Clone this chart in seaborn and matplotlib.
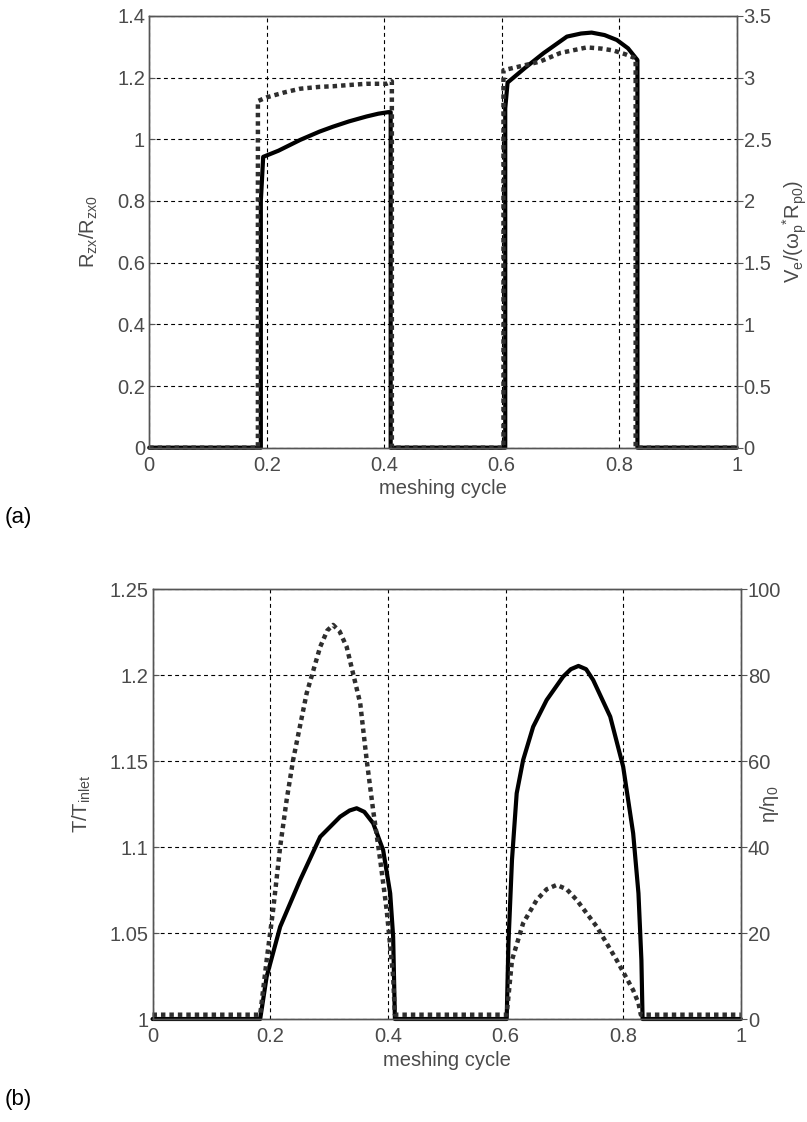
import matplotlib
matplotlib.use("Agg")
import matplotlib.pyplot as plt
import seaborn as sns
from matplotlib.ticker import FixedLocator, FuncFormatter

# ---------------------------------------------------------------------------
# (a) contact radius ratio (left axis) and entrainment velocity (right axis)
# ---------------------------------------------------------------------------
cycle_r = [0.0, 0.190, 0.190, 0.194, 0.22, 0.257, 0.29, 0.313, 0.34, 0.37,
           0.39, 0.407, 0.411, 0.411, 0.606, 0.606, 0.61, 0.64, 0.671, 0.711,
           0.735, 0.753, 0.775, 0.796, 0.815, 0.831, 0.831, 1.0]
r_ratio = [0.0, 0.0, 0.80, 0.943, 0.963, 0.998, 1.025, 1.041, 1.058, 1.074,
           1.083, 1.088, 1.088, 0.0, 0.0, 1.10, 1.184, 1.232, 1.279, 1.333,
           1.343, 1.346, 1.338, 1.322, 1.295, 1.257, 0.0, 0.0]

cycle_v = [0.0, 0.185, 0.185, 0.20, 0.23, 0.257, 0.29, 0.313, 0.34, 0.37,
           0.404, 0.413, 0.413, 0.603, 0.603, 0.63, 0.665, 0.70, 0.745,
           0.77, 0.79, 0.81, 0.826, 0.828, 0.828, 1.0]
v_ratio = [0.0, 0.0, 2.81, 2.84, 2.88, 2.91, 2.925, 2.93, 2.94, 2.95,
           2.95, 2.97, 0.0, 0.0, 3.06, 3.09, 3.13, 3.20, 3.245,
           3.235, 3.22, 3.19, 3.16, 3.15, 0.0, 0.0]

# ---------------------------------------------------------------------------
# (b) temperature rise (left axis) and viscosity ratio (right axis)
# ---------------------------------------------------------------------------
cycle_t = [0.0, 0.183, 0.194, 0.217, 0.251, 0.285, 0.319, 0.335, 0.347,
           0.36, 0.375, 0.392, 0.404, 0.409, 0.412, 0.602, 0.605, 0.611,
           0.619, 0.630, 0.647, 0.670, 0.698, 0.711, 0.724, 0.737, 0.749,
           0.778, 0.800, 0.817, 0.826, 0.831, 0.833, 1.0]
t_ratio = [1.0, 1.0, 1.0246, 1.0537, 1.0809, 1.106, 1.1177, 1.1213, 1.1226,
           1.1205, 1.1139, 1.0983, 1.0731, 1.0479, 1.0, 1.0, 1.044, 1.0925,
           1.1313, 1.1507, 1.170, 1.1856, 1.1992, 1.2035, 1.2054, 1.2035,
           1.1972, 1.1759, 1.1468, 1.108, 1.0731, 1.0343, 1.0, 1.0]

cycle_eta = [0.0, 0.183, 0.194, 0.205, 0.217, 0.228, 0.239, 0.262, 0.285,
             0.297, 0.307, 0.318, 0.330, 0.353, 0.364, 0.375, 0.387, 0.398,
             0.409, 0.412, 0.602, 0.611, 0.630, 0.653, 0.670, 0.687, 0.704,
             0.721, 0.755, 0.789, 0.817, 0.826, 0.830, 1.0]
eta_ratio = [1.0, 1.0, 13.7, 25.4, 40.1, 51.0, 60.3, 75.8, 86.6, 90.4, 91.7,
             90.2, 86.6, 73.5, 60.3, 48.6, 37.0, 25.4, 9.8, 1.0, 1.0, 13.7,
             22.3, 27.7, 30.2, 31.2, 30.2, 27.7, 21.5, 13.7, 6.7, 3.7, 1.0,
             1.0]

# Tick values
cycle_ticks = [0, 0.2, 0.4, 0.6, 0.8, 1]
r_ticks = [0, 0.2, 0.4, 0.6, 0.8, 1, 1.2, 1.4]
v_ticks = [0, 0.5, 1, 1.5, 2, 2.5, 3, 3.5]
t_ticks = [1, 1.05, 1.1, 1.15, 1.2, 1.25]
eta_ticks = [0, 20, 40, 60, 80, 100]

sns.set_theme(style="white")
plt.rcParams["font.family"] = ["Liberation Sans", "DejaVu Sans"]
plt.rcParams["mathtext.fontset"] = "custom"
plt.rcParams["mathtext.rm"] = "Liberation Sans"
plt.rcParams["mathtext.it"] = "Liberation Sans"

TEXT = "#4a4a4a"
SPINE = "#555555"
DOT = "#2e2e2e"
FS = 14.5

fig = plt.figure(figsize=(8.07, 11.22), dpi=100)
fig.patch.set_facecolor("white")

fmt = FuncFormatter(lambda v, _: f"{v:g}")


def style_pair(ax, ax2, left_ticks, right_ticks, left_lim, right_lim,
               left_label, right_label, left_x, right_x):
    ax.set_xlim(0, 1)
    ax.set_ylim(*left_lim)
    ax2.set_ylim(*right_lim)
    ax.xaxis.set_major_locator(FixedLocator(cycle_ticks))
    ax.yaxis.set_major_locator(FixedLocator(left_ticks))
    ax2.yaxis.set_major_locator(FixedLocator(right_ticks))
    for a in (ax.xaxis, ax.yaxis, ax2.yaxis):
        a.set_major_formatter(fmt)
    ax.grid(True, color="black", linestyle=(0, (3.5, 3)), linewidth=0.8)
    ax.set_axisbelow(True)
    ax.tick_params(axis="y", direction="in", length=4, width=0.8,
                   colors=SPINE, labelcolor=TEXT, labelsize=FS, pad=3)
    ax.tick_params(axis="x", direction="in", length=4, width=0.8,
                   colors=SPINE, labelcolor=TEXT, labelsize=FS, pad=6)
    ax2.tick_params(axis="y", direction="out", length=4, width=0.8,
                    colors=SPINE, labelcolor=TEXT, labelsize=FS, pad=1)
    for a in (ax, ax2):
        for s in a.spines.values():
            s.set_color(SPINE)
            s.set_linewidth(1.0)
            s.set_visible(True)
    ax.set_xlabel("meshing cycle", fontsize=FS, color=TEXT, labelpad=3)
    ax.set_ylabel(left_label, fontsize=FS, color=TEXT)
    ax2.set_ylabel(right_label, fontsize=FS, color=TEXT)
    ax.yaxis.set_label_coords(left_x, 0.5)
    ax2.yaxis.set_label_coords(right_x, 0.5)


def draw_pair(ax, ax2, x1, y1, x2, y2):
    sns.lineplot(x=x1, y=y1, ax=ax, color="black", linewidth=3.0,
                 estimator=None, sort=False, legend=False)
    sns.lineplot(x=x2, y=y2, ax=ax2, color=DOT, linewidth=3.2,
                 estimator=None, sort=False, legend=False)
    ax2.lines[-1].set_linestyle((0, (1.0, 0.9)))
    for ln in ax.lines + ax2.lines:
        ln.set_clip_on(False)
        ln.set_solid_joinstyle("round")


# panel (a)
ax_a = fig.add_axes([0.1849, 0.601, 0.728, 0.3848])
ax_a2 = ax_a.twinx()
draw_pair(ax_a, ax_a2, cycle_r, r_ratio, cycle_v, v_ratio)
style_pair(ax_a, ax_a2, r_ticks, v_ticks, (0, 1.4), (0, 3.5),
           r"$\mathregular{R_{zx}/R_{zx0}}$",
           r"$\mathregular{V_e/(\omega_p{}^{*}R_{p0})}$",
           -0.084, 1.074)

# panel (b)
ax_b = fig.add_axes([0.189, 0.0918, 0.729, 0.383])
ax_b2 = ax_b.twinx()
draw_pair(ax_b, ax_b2, cycle_t, t_ratio, cycle_eta, eta_ratio)
style_pair(ax_b, ax_b2, t_ticks, eta_ticks, (1, 1.25), (0, 100),
           r"$\mathregular{T/T_{inlet}}$",
           r"$\mathregular{\eta/\eta_0}$",
           -0.101, 1.03)

fig.text(0.006, 0.539, "(a)", fontsize=16, color="black", va="center")
fig.text(0.006, 0.020, "(b)", fontsize=16, color="black", va="center")

fig.savefig("out.png", dpi=100, facecolor="white")
